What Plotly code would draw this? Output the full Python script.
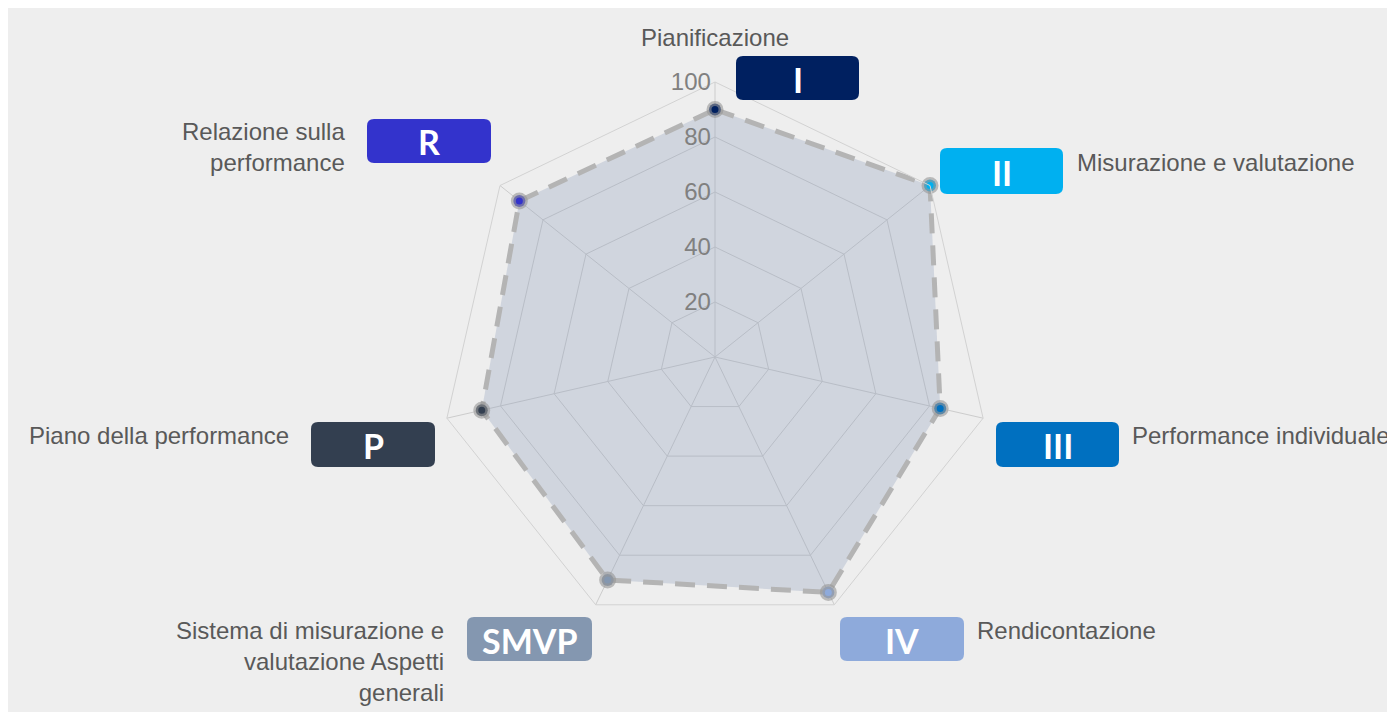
import plotly.graph_objects as go

W, H = 1400, 712
OX, OY = 8, 8  # page body margin offset

categories = ["Pianificazione", "Misurazione e valutazione", "Performance individuale",
              "Rendicontazione", "Sistema di misurazione e valutazione Aspetti generali",
              "Piano della performance", "Relazione sulla performance"]
values = [90, 100, 84, 95, 90, 87, 91]
badges = ["I", "II", "III", "IV", "SMVP", "P", "R"]
colors = ["#002060", "#00b0f0", "#0070c0", "#8eaadb", "#8497b0", "#333f50", "#3333cc"]
radial_ticks = [20, 40, 60, 80, 100]

# label display text (with line breaks) and layout (screen pixel positions)
label_text = ["Pianificazione", "Misurazione e valutazione", "Performance individuale",
              "Rendicontazione", "Sistema di misurazione e<br>valutazione Aspetti<br>generali",
              "Piano della performance", "Relazione sulla<br>performance"]
label_pos = [(715, 37, "center", "middle"), (1075, 162, "left", "middle"),
             (1130, 435, "left", "middle"), (975, 630, "left", "middle"),
             (446, 630, "right", "top"), (291, 435, "right", "middle"),
             (347, 131, "right", "top")]
badge_box = [(736, 56, 859, 100), (940, 148, 1063, 194), (996, 422, 1119, 467),
             (840, 617, 964, 661), (467, 617, 592, 661), (311, 422, 435, 467),
             (367, 119, 491, 163)]


def px(x):
    return (x - OX) / W


def py(y):
    return 1 - (y - OY) / H


def rounded_rect(x0, y0, x1, y1, r=7):
    pts = [
        f"M {px(x0 + r)} {py(y0)}", f"L {px(x1 - r)} {py(y0)}",
        f"Q {px(x1)} {py(y0)} {px(x1)} {py(y0 + r)}", f"L {px(x1)} {py(y1 - r)}",
        f"Q {px(x1)} {py(y1)} {px(x1 - r)} {py(y1)}", f"L {px(x0 + r)} {py(y1)}",
        f"Q {px(x0)} {py(y1)} {px(x0)} {py(y1 - r)}", f"L {px(x0)} {py(y0 + r)}",
        f"Q {px(x0)} {py(y0)} {px(x0 + r)} {py(y0)}", "Z",
    ]
    return " ".join(pts)


fig = go.Figure()

fig.add_trace(go.Scatterpolar(
    r=values + [values[0]],
    theta=categories + [categories[0]],
    mode="lines",
    fill="toself",
    fillcolor="rgba(138,155,185,0.30)",
    line=dict(color="rgba(180,180,180,1)", width=5, dash="20px,12px"),
    hoverinfo="skip",
    showlegend=False,
))

fig.add_trace(go.Scatterpolar(
    r=values,
    theta=categories,
    mode="markers",
    marker=dict(size=12, color=colors, line=dict(width=5, color="rgba(150,150,150,0.6)")),
    showlegend=False,
))

cx, cy, R = 715, 357, 275
fig.update_layout(
    width=W, height=H,
    margin=dict(l=0, r=0, t=0, b=0),
    paper_bgcolor="#eeeeee",
    plot_bgcolor="#eeeeee",
    font=dict(family="Liberation Sans, Arial, sans-serif"),
    polar=dict(
        domain=dict(x=[px(cx - R), px(cx + R)], y=[py(cy + R), py(cy - R)]),
        bgcolor="rgba(0,0,0,0)",
        gridshape="linear",
        angularaxis=dict(
            direction="clockwise", rotation=90,
            showticklabels=False, ticks="",
            gridcolor="#cccccc", linecolor="#d2d2d2", showline=True,
        ),
        radialaxis=dict(
            range=[0, 100], tickvals=radial_ticks, angle=90, tickangle=90,
            side="counterclockwise", showline=False, ticks="",
            gridcolor="#cccccc",
            tickfont=dict(size=24, color="#808080", family="Liberation Sans, Arial, sans-serif"),
        ),
    ),
)

shapes = []
annotations = []
for i, b in enumerate(badges):
    x0, y0, x1, y1 = badge_box[i]
    shapes.append(dict(type="path", xref="paper", yref="paper",
                       path=rounded_rect(x0, y0, x1, y1), fillcolor=colors[i],
                       line=dict(width=0), layer="above"))
    annotations.append(dict(x=px((x0 + x1) / 2), y=py((y0 + y1) / 2 + 1), xref="paper", yref="paper",
                            text=f"<b>{b}</b>", showarrow=False, xanchor="center", yanchor="middle",
                            font=dict(family="Lato, sans-serif", size=34, color="white")))
    lx, ly, xa, ya = label_pos[i]
    annotations.append(dict(x=px(lx), y=py(ly), xref="paper", yref="paper",
                            text=label_text[i], showarrow=False, xanchor=xa, yanchor=ya,
                            align=xa if xa != "center" else "center",
                            font=dict(size=24, color="#595959")))
# multiline labels: anchor at text top
for a in annotations:
    if a.get("yanchor") == "top":
        a["y"] = a["y"] + 15 / H

fig.update_layout(shapes=shapes, annotations=annotations)
fig.write_html("out.html", default_width="1400px", default_height="712px",
               post_script="document.documentElement.style.overflow='hidden';document.body.style.overflow='hidden';")
